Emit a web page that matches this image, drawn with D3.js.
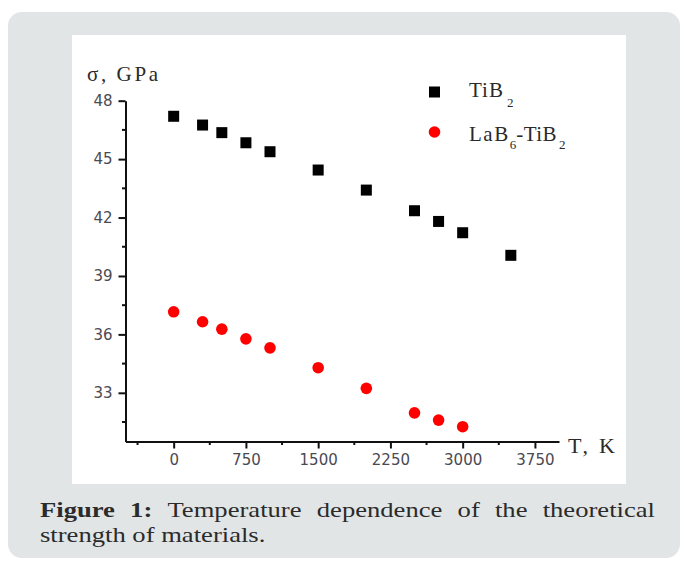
<!DOCTYPE html>
<html>
<head>
<meta charset="utf-8">
<script src="https://cdn.jsdelivr.net/npm/d3@7"></script>
<style>
  body { margin: 0; background: #fff; }
  svg { display: block; }
</style>
</head>
<body>
<div id="chart"></div>
<script>
// temperature, K
const tempTiB2 = [0, 300, 500, 750, 1000, 1500, 2000, 2500, 2750, 3000, 3500];
// sigma, GPa
const sigmaTiB2 = [47.2, 46.75, 46.36, 45.84, 45.38, 44.44, 43.41, 42.35, 41.8, 41.22, 40.06];

const tempLaB6 = [0, 300, 500, 750, 1000, 1500, 2000, 2500, 2750, 3000];
const sigmaLaB6 = [37.16, 36.65, 36.27, 35.77, 35.31, 34.29, 33.23, 31.97, 31.6, 31.26];

const xTicks = [0, 750, 1500, 2250, 3000, 3750];
const xMinor = [-375, 375, 1125, 1875, 2625, 3375];
const yTicks = [33, 36, 39, 42, 45, 48];
const yMinor = [31.5, 34.5, 37.5, 40.5, 43.5, 46.5];

const W = 686, H = 563;

const svg = d3.select("#chart").append("svg")
  .attr("width", W)
  .attr("height", H);

// grey card + white picture area
svg.append("rect")
  .attr("x", 8).attr("y", 12)
  .attr("width", 672).attr("height", 546)
  .attr("rx", 14)
  .attr("fill", "#e2e5e6");

svg.append("rect")
  .attr("x", 72).attr("y", 35)
  .attr("width", 554).attr("height", 449)
  .attr("fill", "#fff");

const x = d3.scaleLinear().domain([-500, 4000]).range([125.5, 559]);
const y = d3.scaleLinear().domain([30.5, 48]).range([441.5, 100.7]);

const g = svg.append("g");
const tickFont = "'DejaVu Sans', Arial, sans-serif";

// axes
const xAxis = d3.axisBottom(x).tickValues(xTicks).tickFormat(d3.format("d"))
  .tickSize(7).tickSizeOuter(0).tickPadding(6);
const yAxis = d3.axisLeft(y).tickValues(yTicks).tickFormat(d3.format("d"))
  .tickSize(7).tickSizeOuter(0).tickPadding(6);

const gx = g.append("g")
  .attr("transform", "translate(0," + y.range()[0] + ")")
  .call(xAxis);
const gy = g.append("g")
  .attr("transform", "translate(" + x.range()[0] + ",0)")
  .call(yAxis);

[gx, gy].forEach((a) => {
  a.select(".domain").attr("stroke", "#111").attr("stroke-width", 2);
  a.selectAll(".tick line").attr("stroke", "#111").attr("stroke-width", 2);
  a.selectAll(".tick text")
    .attr("fill", "#4a4a52")
    .style("font-family", tickFont)
    .style("font-size", "15px");
});

// minor ticks
gx.selectAll(".minor")
  .data(xMinor)
  .enter()
  .append("line")
  .attr("x1", (d) => x(d)).attr("x2", (d) => x(d))
  .attr("y1", 0).attr("y2", 3.5)
  .attr("stroke", "#111").attr("stroke-width", 2);

gy.selectAll(".minor")
  .data(yMinor)
  .enter()
  .append("line")
  .attr("y1", (d) => y(d)).attr("y2", (d) => y(d))
  .attr("x1", 0).attr("x2", -3.5)
  .attr("stroke", "#111").attr("stroke-width", 2);

// axis titles
const serif = "'Liberation Serif', 'Times New Roman', serif";
svg.append("text")
  .attr("x", 87).attr("y", 81)
  .attr("textLength", 71)
  .attr("lengthAdjust", "spacing")
  .style("font-family", serif)
  .style("font-size", "21px")
  .attr("fill", "#2a2a2a")
  .text("σ, GPa");

svg.append("text")
  .attr("x", 568).attr("y", 453)
  .attr("textLength", 47)
  .attr("lengthAdjust", "spacing")
  .style("font-family", serif)
  .style("font-size", "22px")
  .attr("fill", "#2a2a2a")
  .text("T, K");

// data points
const ptsTiB2 = tempTiB2.map((t, i) => ({ t: t, s: sigmaTiB2[i] }));
const ptsLaB6 = tempLaB6.map((t, i) => ({ t: t, s: sigmaLaB6[i] }));

g.selectAll(".sq")
  .data(ptsTiB2)
  .enter()
  .append("rect")
  .attr("class", "sq")
  .attr("x", (d) => x(d.t) - 5.5)
  .attr("y", (d) => y(d.s) - 5.5)
  .attr("width", 11).attr("height", 11)
  .attr("fill", "#000");

g.selectAll(".dot")
  .data(ptsLaB6)
  .enter()
  .append("circle")
  .attr("class", "dot")
  .attr("cx", (d) => x(d.t))
  .attr("cy", (d) => y(d.s))
  .attr("r", 5.8)
  .attr("fill", "#ff0000");

// legend
const leg = svg.append("g");
leg.append("rect")
  .attr("x", 429).attr("y", 86.5)
  .attr("width", 11).attr("height", 11)
  .attr("fill", "#000");
leg.append("circle")
  .attr("cx", 434.5).attr("cy", 132)
  .attr("r", 5.8)
  .attr("fill", "#ff0000");

const l1 = leg.append("text")
  .attr("x", 469).attr("y", 97)
  .style("font-family", serif)
  .style("font-size", "21px")
  .attr("fill", "#2a2a2a");
l1.append("tspan").attr("letter-spacing", "1").text("TiB");
l1.append("tspan").attr("dx", 3).attr("dy", 10).style("font-size", "13px").text("2");

const l2 = leg.append("text")
  .attr("x", 469).attr("y", 141)
  .style("font-family", serif)
  .style("font-size", "21px")
  .attr("fill", "#2a2a2a");
l2.append("tspan").attr("letter-spacing", "1.5").text("LaB");
l2.append("tspan").attr("dy", 8).style("font-size", "13px").text("6");
l2.append("tspan").attr("dy", -8).attr("letter-spacing", "0.5").text("-TiB");
l2.append("tspan").attr("dx", 2).attr("dy", 8).style("font-size", "13px").text("2");

// caption
const capFont = "'Liberation Serif', 'Times New Roman', serif";
const capSize = 22;
const capScale = 1.21;
const words1 = [
  { w: "Figure", b: true }, { w: "1:", b: true },
  { w: "Temperature" }, { w: "dependence" }, { w: "of" }, { w: "the" }, { w: "theoretical" }
];
const left = 40, right = 655;
const capG = svg.append("g").attr("fill", "#2b2b2b");
const nodes = words1.map((d) =>
  capG.append("text")
    .attr("y", 517)
    .style("font-family", capFont)
    .style("font-size", capSize + "px")
    .style("font-weight", d.b ? "bold" : "normal")
    .text(d.w)
);
const widths = nodes.map((n) => n.node().getComputedTextLength() * capScale);
const gap = (right - left - d3.sum(widths)) / (words1.length - 1);
let cx = left;
nodes.forEach((n, i) => {
  n.attr("transform", "translate(" + cx + ",0) scale(" + capScale + ",1)");
  cx += widths[i] + gap;
});

capG.append("text")
  .attr("transform", "translate(" + left + ",0) scale(" + capScale + ",1)")
  .attr("y", 542)
  .style("font-family", capFont)
  .style("font-size", capSize + "px")
  .text("strength of materials.");
</script>
</body>
</html>
